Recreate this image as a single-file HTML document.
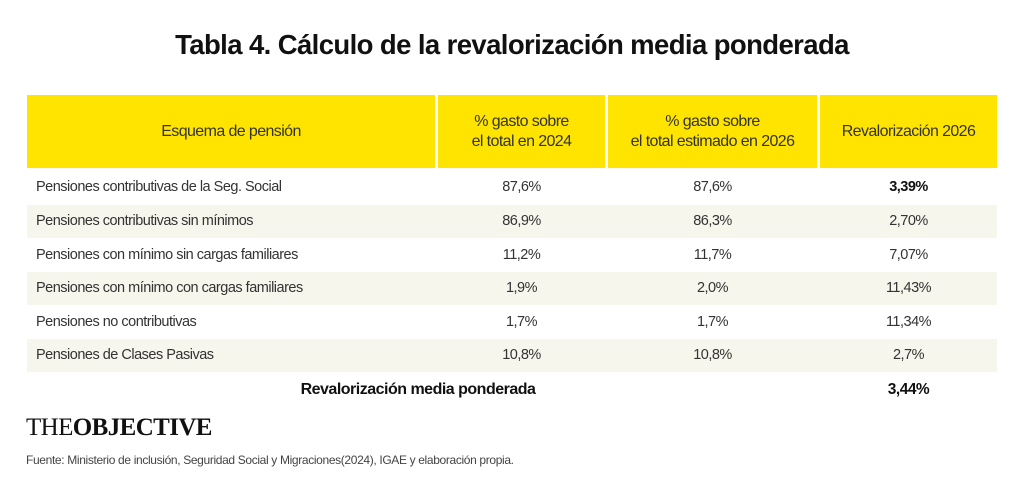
<!DOCTYPE html>
<html><head><meta charset="utf-8"><style>
body{margin:0;width:1024px;height:500px;background:#fff;position:relative;overflow:hidden;font-family:"Liberation Sans",sans-serif;color:#222}
.a{position:absolute}
.t{left:0;width:1024px;top:29px;text-align:center;font-weight:bold;font-size:27.5px;letter-spacing:-0.6px;color:#111}
.h{background:#ffe400;top:95px;height:73px;display:flex;align-items:center;justify-content:center;text-align:center;font-size:16px;letter-spacing:-0.6px;line-height:20px;color:#333}
.r{left:27px;width:970px;height:33px}
.s{background:#f6f6ec}
.c{font-size:14.5px;letter-spacing:-0.5px;color:#333;line-height:33px}
.l{left:36px}
.m1{left:438px;width:167px;text-align:center}
.m2{left:607px;width:211px;text-align:center}
.m3{left:820px;width:177px;text-align:center}
b{color:#111}
</style></head><body>
<div class="a t">Tabla 4. Cálculo de la revalorización media ponderada</div>
<div class="a h" style="left:27px;width:408px">Esquema de pensión</div>
<div class="a h" style="left:438px;width:167px">% gasto sobre<br>el total en 2024</div>
<div class="a h" style="left:608px;width:209px">% gasto sobre<br>el total estimado en 2026</div>
<div class="a h" style="left:820px;width:177px">Revalorización 2026</div>

<div class="a r s" style="top:205px"></div>
<div class="a r s" style="top:272px"></div>
<div class="a r s" style="top:339px"></div>

<div class="a c l" style="top:171px">Pensiones contributivas de la Seg. Social</div>
<div class="a c m1" style="top:171px">87,6%</div><div class="a c m2" style="top:171px">87,6%</div><div class="a c m3" style="top:171px"><b>3,39%</b></div>
<div class="a c l" style="top:205px">Pensiones contributivas sin mínimos</div>
<div class="a c m1" style="top:205px">86,9%</div><div class="a c m2" style="top:205px">86,3%</div><div class="a c m3" style="top:205px">2,70%</div>
<div class="a c l" style="top:239px">Pensiones con mínimo sin cargas familiares</div>
<div class="a c m1" style="top:239px">11,2%</div><div class="a c m2" style="top:239px">11,7%</div><div class="a c m3" style="top:239px">7,07%</div>
<div class="a c l" style="top:272px">Pensiones con mínimo con cargas familiares</div>
<div class="a c m1" style="top:272px">1,9%</div><div class="a c m2" style="top:272px">2,0%</div><div class="a c m3" style="top:272px">11,43%</div>
<div class="a c l" style="top:306px">Pensiones no contributivas</div>
<div class="a c m1" style="top:306px">1,7%</div><div class="a c m2" style="top:306px">1,7%</div><div class="a c m3" style="top:306px">11,34%</div>
<div class="a c l" style="top:339px">Pensiones de Clases Pasivas</div>
<div class="a c m1" style="top:339px">10,8%</div><div class="a c m2" style="top:339px">10,8%</div><div class="a c m3" style="top:339px">2,7%</div>
<div class="a c" style="top:373px;left:248px;width:340px;text-align:center;font-size:16px"><b>Revalorización media ponderada</b></div>
<div class="a c m3" style="top:373px;font-size:15.5px"><b>3,44%</b></div>

<div class="a" style="left:26px;top:414px;font-family:'Liberation Serif',serif;font-size:25px;letter-spacing:-0.6px;color:#111">THE<b style="font-weight:900">OBJECTIVE</b></div>
<div class="a" style="left:26px;top:453px;font-size:12px;letter-spacing:-0.35px;color:#444">Fuente: Ministerio de inclusión, Seguridad Social y Migraciones(2024), IGAE y elaboración propia.</div>
</body></html>
